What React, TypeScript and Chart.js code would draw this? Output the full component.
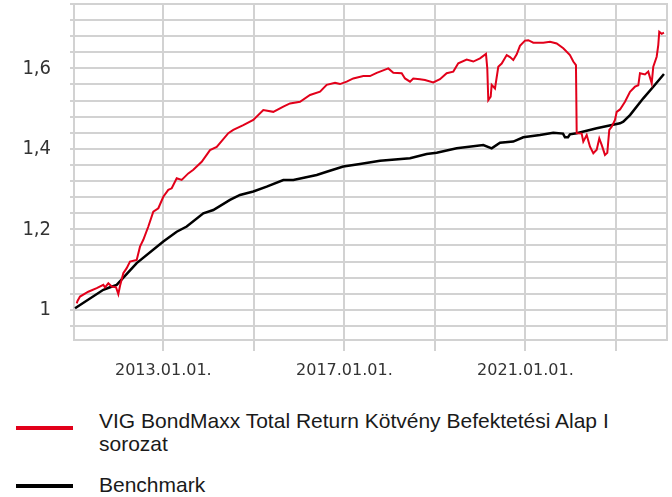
import React, { useEffect, useRef } from "react";
import { Chart, registerables } from "chart.js";

Chart.register(...registerables);

// ---- Data (decimal years, index values) ----
const fundYears = [
  2011.087, 2011.105, 2011.16, 2011.343, 2011.529, 2011.675, 2011.712, 2011.785, 2011.86, 2011.955,
  2012.006, 2012.044, 2012.116, 2012.191, 2012.264, 2012.412, 2012.485, 2012.558, 2012.669, 2012.779,
  2012.89, 2013.0, 2013.11, 2013.186, 2013.296, 2013.406, 2013.552, 2013.663, 2013.848, 2014.032,
  2014.18, 2014.436, 2014.546, 2014.767, 2014.988, 2015.209, 2015.43, 2015.651, 2015.799, 2016.02,
  2016.241, 2016.462, 2016.609, 2016.793, 2016.903, 2017.051, 2017.197, 2017.418, 2017.566, 2017.714,
  2017.787, 2017.97, 2018.081, 2018.266, 2018.339, 2018.45, 2018.522, 2018.67, 2018.78, 2018.964,
  2019.112, 2019.26, 2019.406, 2019.516, 2019.702, 2019.848, 2019.996, 2020.128, 2020.157, 2020.179,
  2020.232, 2020.254, 2020.327, 2020.4, 2020.475, 2020.586, 2020.659, 2020.731, 2020.807, 2020.879,
  2020.99, 2021.063, 2021.173, 2021.394, 2021.542, 2021.69, 2021.836, 2021.983, 2022.057, 2022.116,
  2022.132, 2022.242, 2022.278, 2022.353, 2022.426, 2022.499, 2022.574, 2022.631, 2022.684, 2022.757,
  2022.808, 2022.852, 2022.905, 2022.978, 2023.016, 2023.089, 2023.199, 2023.31, 2023.42, 2023.493,
  2023.53, 2023.64, 2023.713, 2023.789, 2023.824, 2023.899, 2023.934, 2023.956, 2024.009, 2024.06,
];
const fundValues = [
  1.016, 1.022, 1.033, 1.045, 1.054, 1.062, 1.056, 1.066, 1.058, 1.056,
  1.039, 1.06, 1.091, 1.1035, 1.12, 1.124, 1.157, 1.174, 1.207, 1.244,
  1.2525, 1.281, 1.298, 1.302, 1.327, 1.323, 1.339, 1.348, 1.368, 1.397,
  1.405, 1.439, 1.447, 1.459, 1.472, 1.4965, 1.492, 1.505, 1.513, 1.517,
  1.534, 1.542, 1.559, 1.564, 1.561, 1.567, 1.575, 1.581, 1.581, 1.589,
  1.592, 1.6, 1.589, 1.588, 1.575, 1.567, 1.575, 1.573, 1.571, 1.565,
  1.573, 1.588, 1.592, 1.6125, 1.622, 1.617, 1.625, 1.636, 1.6, 1.521,
  1.53, 1.559, 1.55, 1.604, 1.612, 1.633, 1.628, 1.621, 1.635, 1.656,
  1.669, 1.67, 1.664, 1.664, 1.666, 1.662, 1.65, 1.633, 1.617, 1.608,
  1.439, 1.438, 1.418, 1.4345, 1.4055, 1.389, 1.398, 1.426, 1.41, 1.385,
  1.39, 1.447, 1.455, 1.472, 1.492, 1.498, 1.517, 1.542, 1.5545, 1.558,
  1.588, 1.585, 1.592, 1.563, 1.604, 1.629, 1.658, 1.691, 1.686, 1.689,
];

const benchYears = [
  2011.05, 2011.675, 2011.823, 2011.97, 2012.412, 2013.0, 2013.296, 2013.517, 2013.884, 2014.104,
  2014.473, 2014.694, 2014.988, 2015.284, 2015.651, 2015.872, 2016.389, 2016.609, 2016.976, 2017.345,
  2017.787, 2018.45, 2018.818, 2019.039, 2019.481, 2020.069, 2020.254, 2020.438, 2020.731, 2020.952,
  2021.321, 2021.615, 2021.83, 2021.873, 2021.94, 2021.983, 2022.132, 2022.574, 2023.089, 2023.161,
  2023.31, 2023.603, 2023.824, 2024.06,
];
const benchValues = [
  1.004, 1.0497, 1.056, 1.062, 1.116, 1.17, 1.194, 1.207, 1.24, 1.248,
  1.273, 1.2855, 1.294, 1.306, 1.3227, 1.3227, 1.335, 1.343, 1.356, 1.3625,
  1.3707, 1.3766, 1.387, 1.3905, 1.4014, 1.4096, 1.4014, 1.4154, 1.418, 1.4287,
  1.4345, 1.44, 1.438, 1.4287, 1.429, 1.436, 1.4387, 1.451, 1.4635, 1.4675,
  1.484, 1.5256, 1.5545, 1.586,
];

const seriesNames = [
  "VIG BondMaxx Total Return Kötvény Befektetési Alap I sorozat",
  "Benchmark",
];
const seriesColors = ["#e2001a", "#000000"];

const xGridYears = [2013, 2015, 2017, 2019, 2021, 2023];
const xLabelYears = [2013, 2017, 2021];
const yGridValues = [
  0.96, 1.0, 1.04, 1.08, 1.12, 1.16, 1.2, 1.24, 1.28, 1.32, 1.36,
  1.4, 1.44, 1.48, 1.52, 1.56, 1.6, 1.64, 1.68, 1.72, 1.76,
];
const yLabelValues = [1, 1.2, 1.4, 1.6];
const yLabelTexts = ["1", "1,2", "1,4", "1,6"];

const GRID = "#d2d2d2";

const rightBorder = {
  id: "rightBorder",
  beforeDatasetsDraw(chart: any) {
    const { ctx, chartArea } = chart;
    ctx.save();
    ctx.strokeStyle = GRID;
    ctx.lineWidth = 2;
    ctx.beginPath();
    ctx.moveTo(chartArea.right, chartArea.top - 1);
    ctx.lineTo(chartArea.right, chartArea.bottom + 1);
    ctx.stroke();
    ctx.restore();
  },
};

export default function App() {
  const ref = useRef<HTMLCanvasElement | null>(null);

  useEffect(() => {
    if (!ref.current) return;
    const chart = new Chart(ref.current, {
      type: "line",
      data: {
        datasets: [
          {
            label: seriesNames[0],
            data: fundYears.map((x, i) => ({ x, y: fundValues[i] })),
            borderColor: seriesColors[0],
            borderWidth: 2,
            pointRadius: 0,
            tension: 0,
          },
          {
            label: seriesNames[1],
            data: benchYears.map((x, i) => ({ x, y: benchValues[i] })),
            borderColor: seriesColors[1],
            borderWidth: 2.5,
            pointRadius: 0,
            tension: 0,
          },
        ],
      },
      options: {
        animation: false,
        responsive: false,
        maintainAspectRatio: false,
        devicePixelRatio: 1,
        layout: { padding: { left: 0, top: 4, right: 5, bottom: 0 } },
        plugins: { legend: { display: false }, tooltip: { enabled: false } },
        scales: {
          x: {
            type: "linear",
            min: 2011.027,
            max: 2024.127,
            afterBuildTicks: (axis: any) => {
              axis.ticks = xGridYears.map((v) => ({ value: v }));
            },
            afterFit: (scale: any) => {
              scale.height = 60;
              scale.paddingLeft = 0;
              scale.paddingRight = 0;
            },
            grid: { color: GRID, lineWidth: 2, tickLength: 11, drawTicks: true },
            border: { color: GRID, width: 2 },
            ticks: {
              autoSkip: false,
              maxRotation: 0,
              padding: 10,
              color: "#333333",
              font: { family: "'DejaVu Sans', Verdana, sans-serif", size: 16 },
              callback: (v: any) => (xLabelYears.includes(Number(v)) ? `${v}.01.01.` : ""),
            },
          },
          y: {
            type: "linear",
            min: 0.925,
            max: 1.76,
            afterBuildTicks: (axis: any) => {
              axis.ticks = yGridValues.map((v) => ({ value: v }));
            },
            afterFit: (scale: any) => {
              scale.width = 74;
              scale.paddingTop = 0;
              scale.paddingBottom = 0;
            },
            grid: { color: GRID, lineWidth: 2, tickLength: 4, drawTicks: true },
            border: { color: GRID, width: 2 },
            ticks: {
              autoSkip: false,
              padding: 19,
              color: "#333333",
              font: { family: "'DejaVu Sans Condensed', 'DejaVu Sans', sans-serif", size: 20 },
              callback: (v: any) => {
                const idx = yLabelValues.findIndex((t) => Math.abs(t - Number(v)) < 1e-6);
                return idx >= 0 ? yLabelTexts[idx] : "";
              },
            },
          },
        },
      },
      plugins: [rightBorder],
    });
    return () => chart.destroy();
  }, []);

  const legendFont: React.CSSProperties = {
    fontFamily: "'Liberation Sans', Arial, sans-serif",
    fontSize: 21,
    lineHeight: "23px",
    color: "#1a1a1a",
  };

  return (
    <div
      style={{
        position: "absolute",
        left: 0,
        top: 0,
        width: 672,
        height: 497,
        overflow: "hidden",
        background: "#ffffff",
      }}
    >
      <canvas ref={ref} width={672} height={400} style={{ position: "absolute", left: 0, top: 0 }} />
      <div style={{ position: "absolute", left: 16, top: 426, width: 57, height: 4, background: seriesColors[0] }} />
      <div style={{ ...legendFont, position: "absolute", left: 99, top: 408.5, width: 540 }}>
        {seriesNames[0]}
      </div>
      <div style={{ position: "absolute", left: 16, top: 484, width: 57, height: 4, background: seriesColors[1] }} />
      <div style={{ ...legendFont, position: "absolute", left: 99, top: 473, width: 540 }}>
        {seriesNames[1]}
      </div>
    </div>
  );
}
